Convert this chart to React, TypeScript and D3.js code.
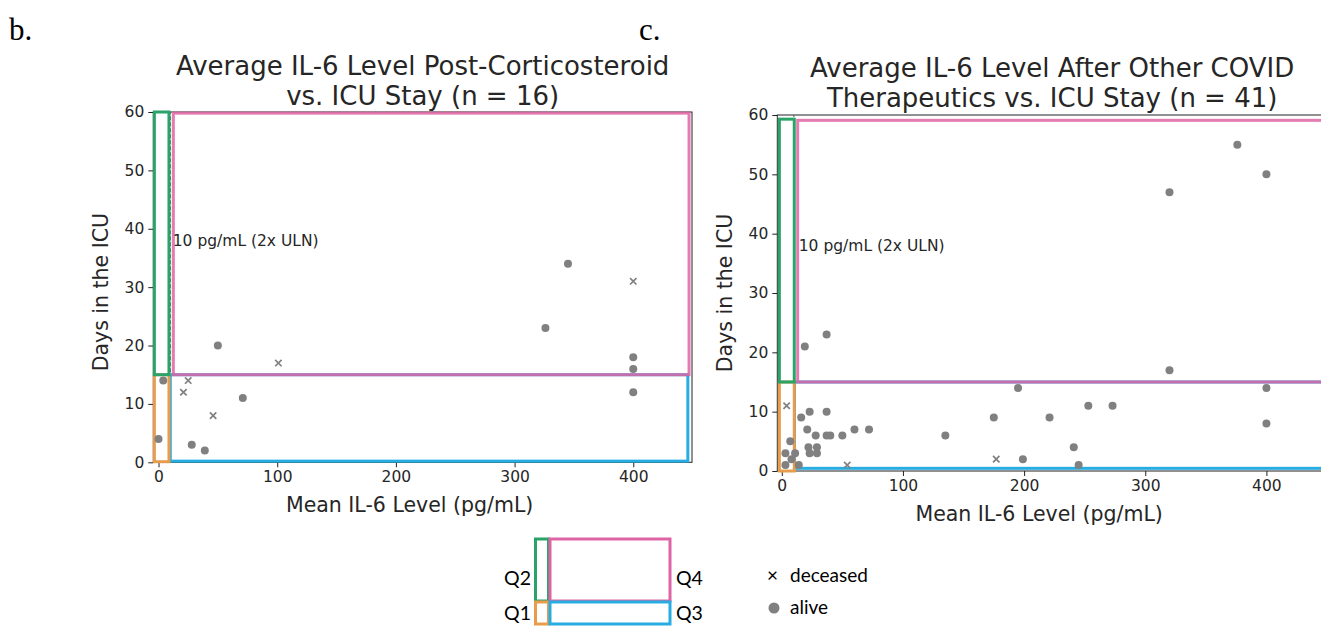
import React, { useRef, useEffect } from 'react';
import * as d3 from 'd3';

// Panel b: post-corticosteroid
const leftAlive: [number, number][] = [
  [0, 4], [4, 14], [28, 3], [39, 2], [50, 20], [71, 11],
  [326, 23], [345, 34], [400, 18], [400, 16], [400, 12],
];
const leftDeceased: [number, number][] = [
  [21, 12], [25, 14], [46, 8], [101, 17], [400, 31],
];

// Panel c: other COVID therapeutics
const rightAlive: [number, number][] = [
  [19, 21], [37, 23], [16, 9], [23, 10], [37, 10], [21, 7], [28, 6], [37, 6],
  [40, 6], [50, 6], [60, 7], [72, 7], [7, 5], [22, 4], [29, 4], [3, 3],
  [11, 3], [23, 3], [29, 3], [8, 2], [3, 1], [14, 1], [195, 14], [175, 9],
  [221, 9], [253, 11], [135, 6], [241, 4], [199, 2], [245, 1], [376, 55],
  [400, 50], [320, 47], [320, 17], [400, 14], [400, 8], [273, 11],
];
const rightDeceased: [number, number][] = [[4, 11], [54, 1], [177, 2]];

const xTicks = [0, 100, 200, 300, 400];
const yTicks = [0, 10, 20, 30, 40, 50, 60];
const threshold = 10;

// quadrant boxes [x0, x1, y0, y1] in data units
const leftQuads = {
  q2: [-3.5, 8.8, 15, 60], q1: [-3.5, 8.8, 0.1, 15],
  q4: [12.5, 447, 15, 59.8], q3: [9.9, 446, 0.2, 15],
};
const rightQuads = {
  q2: [-2, 10.3, 15, 59.3], q1: [-2, 10.3, 0, 15],
  q4: [13.1, 470, 15, 59.1], q3: [10.5, 470, 0.45, 15],
};

const COLORS = { q1: '#e89d4c', q2: '#2aa368', q3: '#27ade2', q4: '#df64a3' };
const FONT = 'DejaVu Sans, sans-serif';

interface PanelSpec {
  left: number; right: number; top: number; bottom: number;
  xDomain: [number, number];
  title: string[];
  titleY: number;
  alive: [number, number][];
  deceased: [number, number][];
  quads: Record<string, number[]>;
  noteX: number;
  yLabelShift: number;
}

const panels: PanelSpec[] = [
  {
    left: 153.3, right: 692, top: 112, bottom: 462.3, xDomain: [-4.4, 449.5],
    title: ['Average IL-6 Level Post-Corticosteroid', 'vs. ICU Stay (n = 16)'],
    titleY: 75, alive: leftAlive, deceased: leftDeceased, quads: leftQuads, noteX: 12,
    yLabelShift: 5,
  },
  {
    left: 777.3, right: 1327, top: 115, bottom: 471, xDomain: [-3.7, 450],
    title: ['Average IL-6 Level After Other COVID', 'Therapeutics vs. ICU Stay (n = 41)'],
    titleY: 77, alive: rightAlive, deceased: rightDeceased, quads: rightQuads, noteX: 14,
    yLabelShift: 0,
  },
];

const App: React.FC = () => {
  const svgRef = useRef<SVGSVGElement>(null);

  useEffect(() => {
    if (!svgRef.current) return;
    const svg = d3.select(svgRef.current);
    svg.selectAll('*').remove();

    panels.forEach(p => {
      const x = d3.scaleLinear().domain(p.xDomain).range([p.left, p.right]);
      const y = d3.scaleLinear().domain([0, 60]).range([p.bottom, p.top]);
      const g = svg.append('g');

      // spines
      g.append('rect')
        .attr('x', p.left).attr('y', p.top)
        .attr('width', p.right - p.left).attr('height', p.bottom - p.top)
        .attr('fill', 'none').attr('stroke', '#222').attr('stroke-width', 1);

      // ticks
      const xa = g.append('g').attr('transform', `translate(0,${p.bottom})`)
        .call(d3.axisBottom(x).tickValues(xTicks).tickSize(5).tickPadding(4));
      const ya = g.append('g').attr('transform', `translate(${p.left},0)`)
        .call(d3.axisLeft(y).tickValues(yTicks).tickSize(5).tickPadding(4));
      [xa, ya].forEach(a => {
        a.attr('font-size', null).attr('font-family', null);
        a.select('.domain').remove();
        a.selectAll('line').attr('stroke', '#222');
        a.selectAll('text')
          .attr('font-family', FONT).attr('font-size', 15.5).attr('fill', '#262626');
      });

      // threshold line
      g.append('line')
        .attr('x1', x(threshold)).attr('x2', x(threshold))
        .attr('y1', y(0)).attr('y2', y(60))
        .attr('stroke', '#555').attr('stroke-width', 1).attr('stroke-dasharray', '4,2');

      // quadrant boxes
      const order = ['q3', 'q1', 'q2', 'q4'];
      order.forEach(k => {
        const [x0, x1, y0, y1] = p.quads[k];
        g.append('rect')
          .attr('x', x(x0)).attr('y', y(y1))
          .attr('width', x(x1) - x(x0)).attr('height', y(y0) - y(y1))
          .attr('fill', 'none').attr('stroke', (COLORS as any)[k])
          .attr('stroke-width', 3)
          .attr('opacity', k === 'q4' ? 0.85 : 1);
      });

      g.append('text')
        .attr('x', x(p.noteX)).attr('y', y(37))
        .attr('font-family', FONT).attr('font-size', 15.5).attr('fill', '#262626')
        .text('10 pg/mL (2x ULN)');

      // points
      g.append('g').selectAll('circle').data(p.alive).enter().append('circle')
        .attr('cx', d => x(d[0])).attr('cy', d => y(d[1]))
        .attr('r', 4).attr('fill', '#808080');
      const s = 3.2;
      g.append('g').selectAll('path').data(p.deceased).enter().append('path')
        .attr('d', d => {
          const cx = x(d[0]), cy = y(d[1]);
          return `M${cx - s},${cy - s}L${cx + s},${cy + s}M${cx - s},${cy + s}L${cx + s},${cy - s}`;
        })
        .attr('stroke', '#808080').attr('stroke-width', 1.7).attr('fill', 'none');

      // labels
      const cx = (p.left + p.right) / 2;
      p.title.forEach((t, i) => {
        g.append('text')
          .attr('x', cx).attr('y', p.titleY + i * 30)
          .attr('text-anchor', 'middle')
          .attr('font-family', FONT).attr('font-size', 26).attr('fill', '#262626')
          .text(t);
      });
      g.append('text')
        .attr('x', cx - 13).attr('y', p.bottom + 50)
        .attr('text-anchor', 'middle')
        .attr('font-family', FONT).attr('font-size', 20.5).attr('fill', '#262626')
        .text('Mean IL-6 Level (pg/mL)');
      g.append('text')
        .attr('transform', `translate(${p.left - 45},${(p.top + p.bottom) / 2 + p.yLabelShift}) rotate(-90)`)
        .attr('text-anchor', 'middle')
        .attr('font-family', FONT).attr('font-size', 20.5).attr('fill', '#262626')
        .text('Days in the ICU');
    });

    // panel letters
    [['b.', 9], ['c.', 639]].forEach(([t, px]) => {
      svg.append('text')
        .attr('x', px as number).attr('y', 40)
        .attr('font-family', 'Liberation Serif, serif').attr('font-size', 31).attr('fill', '#000')
        .text(t as string);
    });

    // quadrant legend
    const lg = svg.append('g');
    const legendBoxes: [string, number, number, number, number][] = [
      ['q2', 535.5, 539, 13, 62], ['q1', 535.5, 602, 13, 22],
      ['q4', 550, 539, 120, 62], ['q3', 550, 602, 120, 22],
    ];
    legendBoxes.forEach(([k, bx, by, bw, bh]) => {
      lg.append('rect')
        .attr('x', bx).attr('y', by).attr('width', bw).attr('height', bh)
        .attr('fill', 'none').attr('stroke', (COLORS as any)[k]).attr('stroke-width', 3);
    });
    const qLabels: [string, number, number, string][] = [
      ['Q2', 531, 585, 'end'], ['Q1', 531, 620, 'end'],
      ['Q4', 676, 585, 'start'], ['Q3', 676, 620, 'start'],
    ];
    qLabels.forEach(([t, lx, ly, anchor]) => {
      lg.append('text')
        .attr('x', lx).attr('y', ly).attr('text-anchor', anchor)
        .attr('font-family', 'Lato, sans-serif').attr('font-size', 19.5).attr('fill', '#000')
        .text(t);
    });
    lg.append('text').attr('x', 767).attr('y', 582)
      .attr('font-family', 'Lato, sans-serif').attr('font-size', 19).attr('fill', '#000')
      .text('×');
    lg.append('text').attr('x', 790).attr('y', 582)
      .attr('font-family', 'Lato, sans-serif').attr('font-size', 19).attr('fill', '#000')
      .text('deceased');
    lg.append('circle').attr('cx', 774).attr('cy', 608).attr('r', 5.5).attr('fill', '#808080');
    lg.append('text').attr('x', 790).attr('y', 614)
      .attr('font-family', 'Lato, sans-serif').attr('font-size', 19).attr('fill', '#000')
      .text('alive');
  }, []);

  return (
    <svg
      ref={svgRef}
      width={1321}
      height={626}
      style={{ position: 'absolute', left: 0, top: 0, background: '#fff' }}
    />
  );
};

export default App;
